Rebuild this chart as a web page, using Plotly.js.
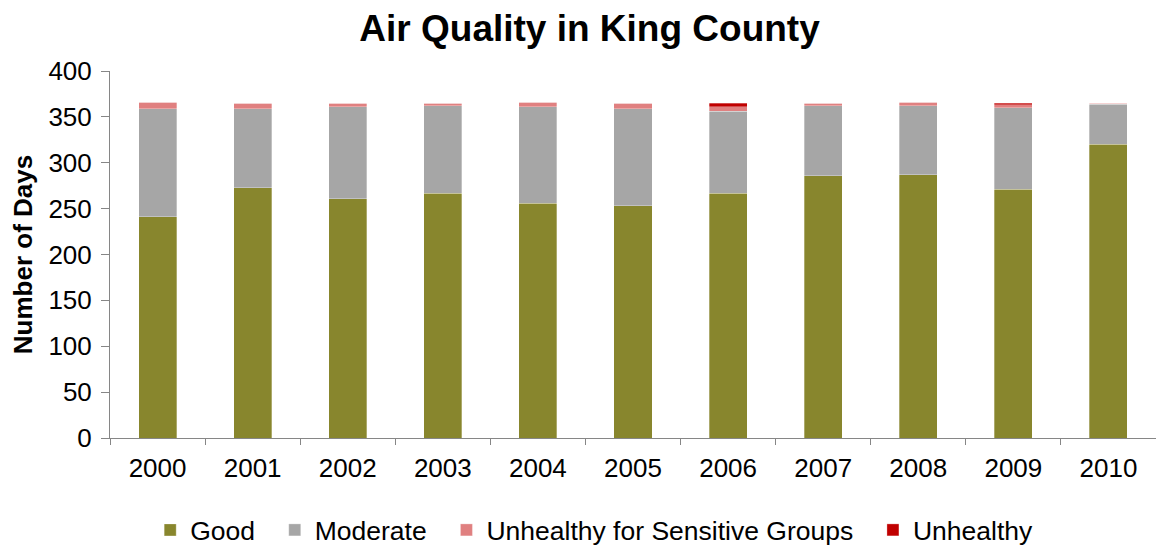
<!DOCTYPE html>
<html>
<head>
<meta charset="utf-8">
<script src="https://cdn.plot.ly/plotly-3.0.1.min.js"></script>
<style>html,body{margin:0;padding:0;background:#fff;}#chart{width:1156px;height:546px;}</style>
</head>
<body>
<div id="chart"></div>
<script>
const years = ['2000','2001','2002','2003','2004','2005','2006','2007','2008','2009','2010'];
const good = [241, 273, 261, 267, 256, 253, 267, 286, 287, 271, 320];
const moderate = [118, 86, 100, 95, 105, 106, 89, 76, 75, 89, 44];
const usg = [7, 6, 4, 3, 5, 6, 5, 3, 4, 3, 1];
const unhealthy = [0, 0, 0, 0, 0, 0, 4, 0, 0, 2, 0];
const seriesNames = ['Good', 'Moderate', 'Unhealthy for Sensitive Groups', 'Unhealthy'];
const colors = ['#88862D', '#A6A6A6', '#E08080', '#C00000'];
const series = [good, moderate, usg, unhealthy];

const PAD = '\u00a0\u00a0';
const traces = series.map((vals, i) => ({
  type: 'bar',
  name: seriesNames[i] + (i < series.length - 1 ? PAD : ''),
  x: years,
  y: vals,
  marker: {color: colors[i], line: {color: 'rgba(255,255,255,0.6)', width: 0.5}},
  hoverinfo: 'x+y+name'
}));

const FONT = 'Liberation Sans, Arial, sans-serif';
const layout = {
  width: 1156,
  height: 546,
  barmode: 'stack',
  bargap: 0.6,
  paper_bgcolor: '#fff',
  plot_bgcolor: '#fff',
  font: {family: FONT, color: '#000', size: 26},
  margin: {l: 110, r: 0, t: 71, b: 108, pad: 0},
  title: {
    text: '<b>Air Quality in King County</b>',
    font: {family: FONT, size: 37, color: '#000'},
    x: 0.51, xanchor: 'center', y: 0.949, yanchor: 'middle', yref: 'container'
  },
  xaxis: {
    type: 'category',
    showline: true, linecolor: '#868686', linewidth: 1,
    ticks: 'outside', tickson: 'boundaries', ticklen: 6, tickcolor: '#868686',
    showgrid: false, zeroline: false,
    tickfont: {size: 26, color: '#000'},
    ticklabelstandoff: 7
  },
  yaxis: {
    range: [0, 400], tickvals: [0,50,100,150,200,250,300,350,400],
    showline: true, linecolor: '#868686', linewidth: 1,
    ticks: 'outside', ticklen: 8, tickcolor: '#868686',
    showgrid: false, zeroline: false,
    tickfont: {size: 26, color: '#000'},
    ticklabelstandoff: 4,
    title: {text: '<b>Number of Days</b>', font: {size: 26, color: '#000'}, standoff: 8}
  },
  legend: {
    orientation: 'h', xref: 'container', yref: 'container',
    x: 0.514, xanchor: 'center', y: 0.029, yanchor: 'middle',
    font: {size: 26.5, color: '#000'}, traceorder: 'normal',
    itemwidth: 30
  },
  showlegend: true
};

Plotly.newPlot('chart', traces, layout, {displayModeBar: false, staticPlot: true});
</script>
</body>
</html>
